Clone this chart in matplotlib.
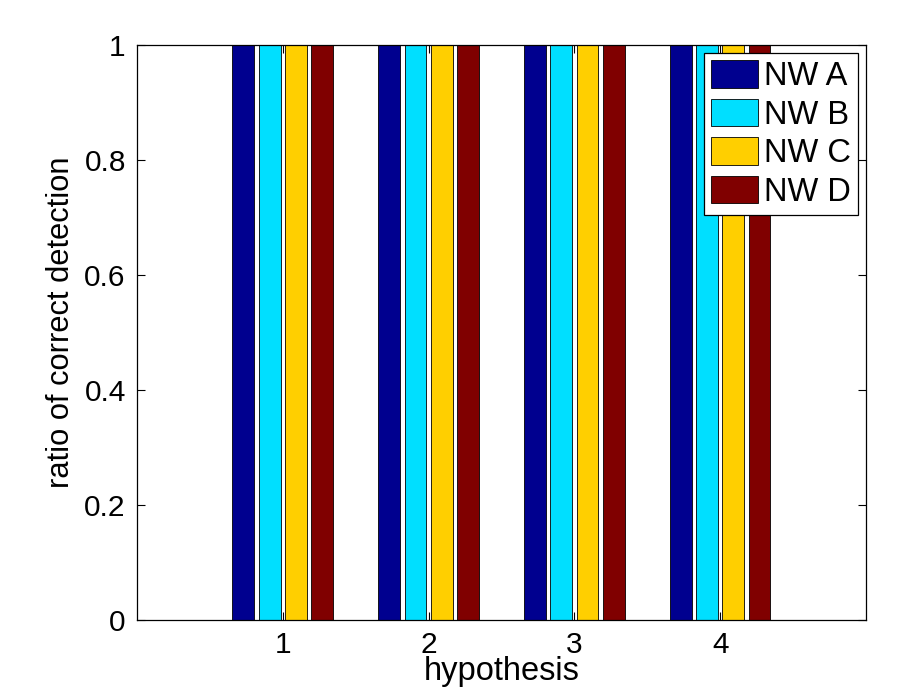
import matplotlib
matplotlib.use("Agg")
import matplotlib.pyplot as plt
import numpy as np

hypotheses = [1, 2, 3, 4]
series_names = ["NW A", "NW B", "NW C", "NW D"]
series_values = [
    [1, 1, 1, 1],
    [1, 1, 1, 1],
    [1, 1, 1, 1],
    [1, 1, 1, 1],
]
colors = ["#00008F", "#00DFFF", "#FFCF00", "#800000"]
yticks = [0, 0.2, 0.4, 0.6, 0.8, 1]
ytick_labels = ["0", "0.2", "0.4", "0.6", "0.8", "1"]

plt.rcParams['font.family'] = ['Liberation Sans', 'DejaVu Sans']
fig = plt.figure(figsize=(8.97, 6.95), dpi=100)
ax = fig.add_axes([0.1527, 0.1086, 0.9654 - 0.1527, 0.9353 - 0.1086])

x = np.array(hypotheses, dtype=float)
offsets = [-0.27, -0.09, 0.09, 0.27]
width = 0.15
for name, vals, c, off in zip(series_names, series_values, colors, offsets):
    ax.bar(x + off, vals, width=width, color=c, edgecolor="black", linewidth=0.6, label=name)

ax.set_xlim(0, 5)
ax.set_ylim(0, 1)
ax.set_xticks(hypotheses)
ax.set_xticklabels([str(h) for h in hypotheses])
ax.set_yticks(yticks)
ax.set_yticklabels(ytick_labels)
ax.tick_params(direction="in", length=6, width=0.8, top=True, right=True, labelsize=21.5, pad=8)
for s in ax.spines.values():
    s.set_linewidth(0.9)
ax.set_xlabel("hypothesis", fontsize=23.5, labelpad=-2)
ax.set_ylabel("ratio of correct detection", fontsize=22.2, labelpad=5)
ax.yaxis.set_label_coords(-0.083, 0.517)

leg = ax.legend(loc="upper right", bbox_to_anchor=(0.9895, 0.986), fontsize=23.5,
                frameon=True, fancybox=False, edgecolor="black", framealpha=1,
                handlelength=1.44, handleheight=0.92, handletextpad=0.18,
                labelspacing=0.2, borderpad=0.22, borderaxespad=0)
leg.get_frame().set_linewidth(0.9)

fig.savefig("out.png", dpi=100)
